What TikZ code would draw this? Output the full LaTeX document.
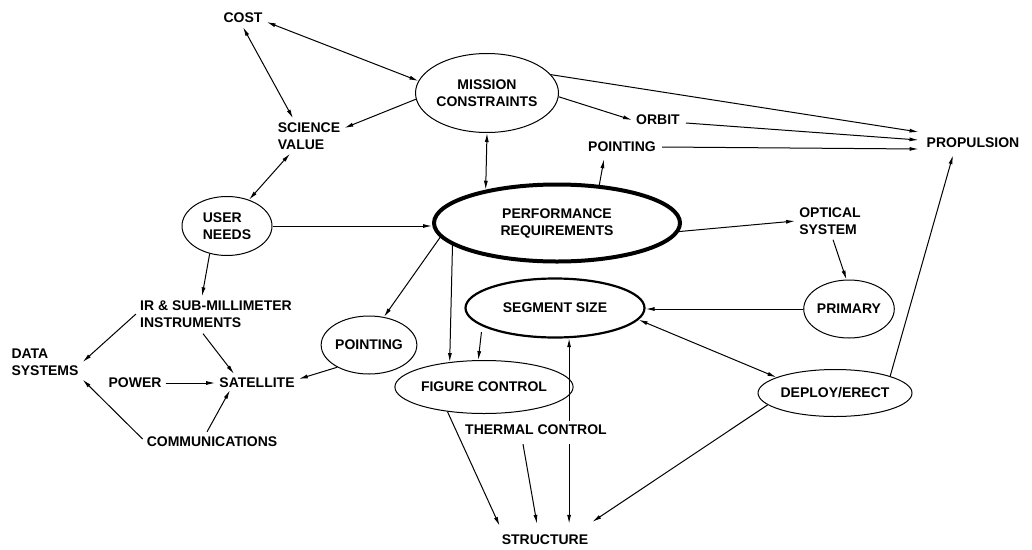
\documentclass[tikz,border=0pt]{standalone}
\usepackage{fontspec}
\setmainfont{Liberation Sans}
\usetikzlibrary{shapes.geometric,arrows.meta,calc}
\begin{document}
\begin{tikzpicture}[x=1pt,y=-1pt,
  lab/.style={font=\fontsize{14}{17}\selectfont\bfseries, inner sep=4pt, align=center},
  oval/.style={ellipse, draw, line width=1pt, inner sep=0pt, font=\fontsize{14}{17}\selectfont\bfseries, align=center},
  link/.style={line width=1pt, >={Latex[length=9pt,width=4pt]}},
]
\useasboundingbox (0,0) rectangle (1032,549);
% nodes
\node[lab] (cost) at (243,18) {COST};
\node[oval, minimum width=120pt, minimum height=79pt] (mc) at (487,93) {MISSION\\CONSTRAINTS};
\node[lab, align=left] (sv) at (309,136) {SCIENCE\\VALUE};
\node[oval, align=left, minimum width=90pt, minimum height=59pt] (un) at (227,226) {USER\\NEEDS};
\node[oval, line width=4pt, minimum width=246pt, minimum height=77pt] (pr) at (557,223) {PERFORMANCE\\REQUIREMENTS};
\node[lab] (prop) at (973,143) {PROPULSION};
\node[lab] (orbit) at (658,120) {ORBIT};
\node[lab] (pt1) at (622,147) {POINTING};
\node[lab, align=left] (opt) at (830,221) {OPTICAL\\SYSTEM};
\node[oval, minimum width=89pt, minimum height=58pt] (prim) at (849,309) {PRIMARY};
\node[oval, line width=2.2pt, minimum width=179pt, minimum height=59pt] (seg) at (555,308) {SEGMENT SIZE};
\node[oval, minimum width=135pt, minimum height=47pt] (dep) at (835,393) {DEPLOY/ERECT};
\node[oval, minimum width=91pt, minimum height=58pt] (pt2) at (369,345) {POINTING};
\node[oval, minimum width=155pt, minimum height=53pt] (fc) at (484,387) {FIGURE CONTROL};
\node[lab] (tc) at (536,430) {THERMAL CONTROL};
\node[lab, inner ysep=11pt] (st) at (545,540) {STRUCTURE};
\node[lab, align=left] (ir) at (216,314) {IR \& SUB-MILLIMETER\\INSTRUMENTS};
\node[lab, align=left] (ds) at (45,362) {DATA\\SYSTEMS};
\node[lab] (pow) at (135,383) {POWER};
\node[lab] (sat) at (257,383) {SATELLITE};
\node[lab] (com) at (212,442) {COMMUNICATIONS};
% connectors
\draw[link,<->] ($(cost.east)+(0,4)$) -- (mc.170);
\draw[link,<->] (cost.south) -- ($(sv.north)+(-16,0)$);
\draw[link,->] (mc.185) -- ($(sv.east)+(0,-8)$);
\draw[link,<->] ($(sv.south)+(-19,0)$) -- (un.50);
\draw[link,->] (un.east) -- (un.east -| pr.west);
\draw[link,<->] (mc.south) -- (pr.155);
\draw[link,->] (mc.16) -- ($(prop.west)+(-4,-11)$);
\draw[link,->] (mc.-3) -- (orbit.west);
\draw[link,->] ($(orbit.east)+(2,3)$) -- ($(prop.west)+(-4,-3)$);
\draw[link,->] ($(pt1.east)+(2,0)$) -- ($(prop.west)+(-4,6)$);
\draw[link,->] (pr.42) -- ($(pt1.south)+(-18,3)$);
\draw[link,->] (pr.-4) -- (opt.west);
\draw[link,->] ($(opt.south)+(3,1)$) -- (prim.95);
\draw[link,->] (prim.west) -- (prim.west -| seg.east);
\draw[link,<->] (seg.-8) -- (dep.165);
\draw[link,->] (dep.17) -- ($(prop.south)+(-20,3)$);
\draw[link,->] (dep.190) -- ($(st.north east)+(0,-2)$);
\draw[link,->] (seg.-65 |- tc.north) -- (seg.-65);
\draw[link,->] ($(seg.-65 |- tc.south)+(0,5)$) -- (seg.-65 |- st.north);
\draw[link,->] ($(tc.south)+(-13,5)$) -- ($(st.north)+(-8,0)$);
\draw[link,->] (fc.214) -- ($(st.north west)+(2,2)$);
\draw[link,->] (pr.192) -- (fc.144);
\draw[link,->,shorten <=6pt] (seg.194) -- (fc.102);
\draw[link,->] (pr.187) -- (pt2.62);
\draw[link,->] (pt2.215) -- ($(sat.east)+(0,-4)$);
\draw[link,->] (un.238) -- ($(ir.north)+(-14,0)$);
\draw[link,->] (ir.west) -- (ds.east);
\draw[link,->] ($(ir.south)+(-13,2)$) -- ($(sat.north)+(-23,0)$);
\draw[link,->] (pow.east) -- (sat.west);
\draw[link,->] ($(com.north)+(-5,-1)$) -- ($(sat.south)+(-27,-2)$);
\draw[link,->] ($(com.west)+(0,-3)$) -- (ds.south east);
\end{tikzpicture}
\end{document}
